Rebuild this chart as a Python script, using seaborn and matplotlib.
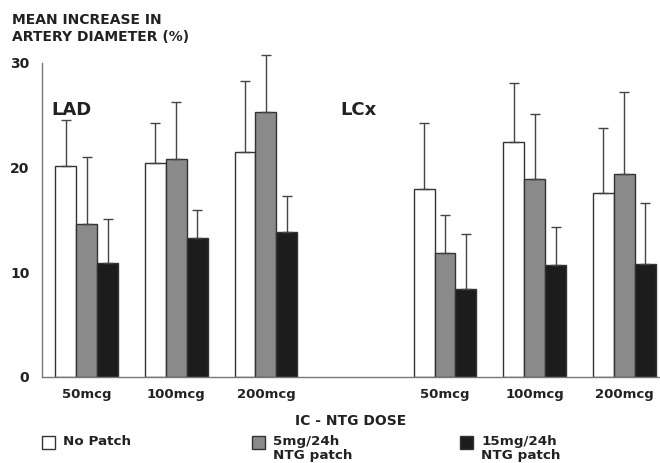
import numpy as np
import pandas as pd
import matplotlib.pyplot as plt
import seaborn as sns
from matplotlib.patches import Rectangle

# --- data ---
arteries = ["LAD", "LCx"]
doses = ["50mcg", "100mcg", "200mcg"]
patch_types = ["No Patch", "5mg/24h\nNTG patch", "15mg/24h\nNTG patch"]

# mean increase in artery diameter (%): LAD 50/100/200, then LCx 50/100/200
no_patch = [20.2, 20.4, 21.5, 18.0, 22.5, 17.6]
patch_5mg = [14.6, 20.8, 25.3, 11.8, 18.9, 19.4]
patch_15mg = [10.9, 13.3, 13.9, 8.4, 10.7, 10.8]

# upper error bar length
sd_no_patch = [4.4, 3.9, 6.8, 6.3, 5.6, 6.2]
sd_5mg = [6.4, 5.5, 5.5, 3.7, 6.2, 7.8]
sd_15mg = [4.2, 2.7, 3.4, 5.3, 3.6, 5.8]

groups = [f"{a} {d}" for a in arteries for d in doses]
rows = []
for name, means, sds in zip(patch_types, [no_patch, patch_5mg, patch_15mg],
                            [sd_no_patch, sd_5mg, sd_15mg]):
    for g, m, s in zip(groups, means, sds):
        rows.append({"group": g, "patch": name, "mean": m, "sd": s})
df = pd.DataFrame(rows)

# blank slot between the two arteries
order = groups[:3] + ["gap"] + groups[3:]
colors = {patch_types[0]: "#ffffff", patch_types[1]: "#8a8a8a", patch_types[2]: "#1c1c1c"}
edge = "#333333"
text_col = "#222222"

sns.set_theme(style="white")
plt.rcParams["font.family"] = ["DejaVu Sans"]
plt.rcParams["font.weight"] = "bold"

W, H = 660, 463
fig = plt.figure(figsize=(W / 100, H / 100), dpi=100)
ax = fig.add_axes([42 / W, 1 - 377 / H, 618 / W, 314 / H])

sns.barplot(data=df, x="group", y="mean", hue="patch", order=order,
            hue_order=patch_types, palette=colors, width=0.7, gap=0,
            edgecolor=edge, linewidth=1, errorbar=None, legend=False, ax=ax)

# one-sided (upward) error bars on each bar
for cont, name in zip(ax.containers, patch_types):
    sub = df[df["patch"] == name]
    xs = [b.get_x() + b.get_width() / 2 for b in cont]
    ys = [b.get_height() for b in cont]
    eb = ax.errorbar(xs, ys, yerr=[np.zeros(len(sub)), sub["sd"].values],
                     fmt="none", ecolor="#444444", elinewidth=1, capsize=3.3,
                     capthick=1)
    for art in eb.lines[1]:
        art.set_clip_on(False)
    for art in eb.lines[2]:
        art.set_clip_on(False)

ax.set_xlim(-0.5, 6.4)
ax.set_ylim(0, 30)
ax.set_yticks([0, 10, 20, 30])
ax.set_xticks(range(len(order)))
ax.set_xticklabels(["" if o == "gap" else o.split()[-1] for o in order])
ax.tick_params(axis="both", length=0, colors=text_col)
ax.tick_params(axis="y", labelsize=10, pad=9)
ax.tick_params(axis="x", labelsize=9.5, pad=8)
ax.set_xlabel("IC - NTG DOSE", fontsize=10, fontweight="bold", color=text_col,
              labelpad=9)
ax.set_ylabel("")
sns.despine(ax=ax)
for side in ["left", "bottom"]:
    ax.spines[side].set_color("#777777")
    ax.spines[side].set_linewidth(1)

# artery labels
ax.text(-0.39, 25, "LAD", fontsize=13, fontweight="bold", color=text_col,
        va="baseline")
ax.text(2.83, 25, "LCx", fontsize=13, fontweight="bold", color=text_col,
        va="baseline")

# y axis title at the top left
fig.text(12 / W, 1 - 13 / H, "MEAN INCREASE IN\nARTERY DIAMETER (%)",
         fontsize=10, fontweight="bold", color=text_col, va="top",
         linespacing=1.3)

# legend along the bottom
leg_x = [42, 252, 460]
for x, name in zip(leg_x, patch_types):
    fig.patches.append(Rectangle((x / W, 1 - 449 / H), 13 / W, 13 / H,
                                 transform=fig.transFigure, facecolor=colors[name],
                                 edgecolor=edge, linewidth=1))
    fig.text((x + 21) / W, 1 - 435 / H, name, fontsize=9.7, fontweight="bold",
             color=text_col, va="top", linespacing=1.15)

fig.savefig("out.png", dpi=100)
